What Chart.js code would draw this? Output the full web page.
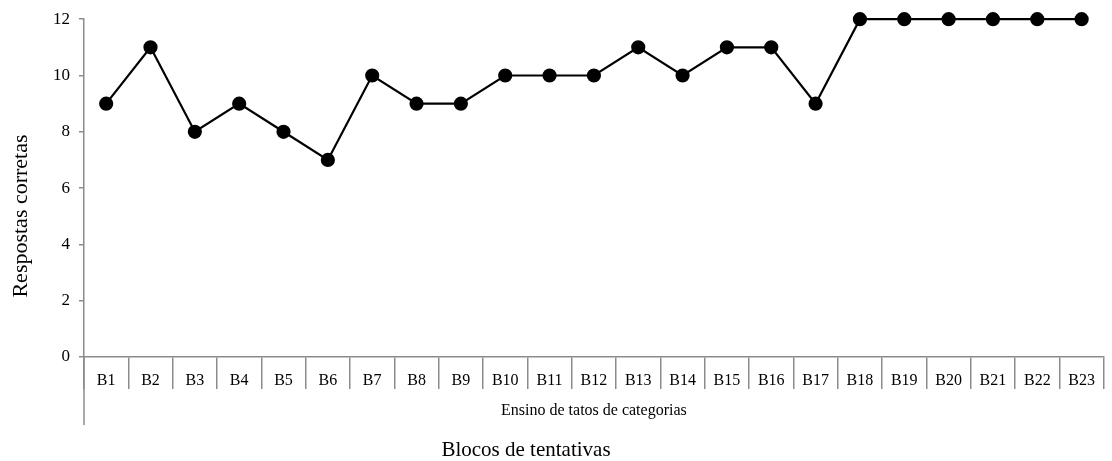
<!DOCTYPE html>
<html>
<head>
<meta charset="utf-8">
<script src="https://cdn.jsdelivr.net/npm/chart.js@4/dist/chart.umd.min.js"></script>
<style>
  body { margin: 0; background: #fff; }
  #wrap { width: 1112px; height: 461px; }
</style>
</head>
<body>
<div id="wrap"><canvas id="graph" width="1112" height="461"></canvas></div>
<script>
"use strict";
// data
var blocos = ["B1", "B2", "B3", "B4", "B5", "B6", "B7", "B8", "B9", "B10", "B11", "B12",
  "B13", "B14", "B15", "B16", "B17", "B18", "B19", "B20", "B21", "B22", "B23"];
var corretas = [9, 11, 8, 9, 8, 7, 10, 9, 9, 10, 10, 10, 11, 10, 11, 11, 9, 12, 12, 12, 12, 12, 12];
var yTicks = [0, 2, 4, 6, 8, 10, 12];

var serif = "'Liberation Serif', 'Times New Roman', serif";
var axisGray = "#8c8c8c";

// extra texts + the long left line under the axis
var extras = {
  id: "extras",
  afterDraw: function (chart) {
    var ctx = chart.ctx;
    var area = chart.chartArea;
    ctx.save();
    ctx.strokeStyle = axisGray;
    ctx.lineWidth = 1.5;
    ctx.beginPath();
    ctx.moveTo(area.left, area.bottom);
    ctx.lineTo(area.left, area.bottom + 68);
    ctx.stroke();

    ctx.fillStyle = "#000";
    ctx.textAlign = "center";
    ctx.textBaseline = "middle";
    ctx.font = "16px " + serif;
    ctx.fillText("Ensino de tatos de categorias", (area.left + area.right) / 2, 411);
    ctx.font = "21px " + serif;
    ctx.fillText("Blocos de tentativas", 526, 450);

    ctx.translate(21, 216);
    ctx.rotate(-Math.PI / 2);
    ctx.font = "22px " + serif;
    ctx.fillText("Respostas corretas", 0, 0);
    ctx.restore();
  }
};

new Chart(document.getElementById("graph"), {
  type: "line",
  data: {
    labels: blocos,
    datasets: [{
      data: corretas,
      borderColor: "#000",
      borderWidth: 2.2,
      pointBackgroundColor: "#000",
      pointBorderColor: "#000",
      pointRadius: 6,
      tension: 0,
      clip: false
    }]
  },
  options: {
    responsive: false,
    animation: false,
    layout: { padding: { left: 0, right: 6, top: 19, bottom: 0 } },
    plugins: { legend: { display: false }, tooltip: { enabled: false } },
    scales: {
      x: {
        offset: true,
        afterFit: function (s) { s.height = 104; },
        border: { color: axisGray, width: 1.5 },
        grid: { offset: true, drawOnChartArea: false, tickLength: 32, color: axisGray, lineWidth: 1.5 },
        ticks: { color: "#000", font: { family: serif, size: 16 }, padding: -18, maxRotation: 0, autoSkip: false }
      },
      y: {
        min: 0,
        max: 12,
        afterFit: function (s) { s.width = 84; },
        afterBuildTicks: function (s) { s.ticks = yTicks.map(function (v) { return { value: v }; }); },
        border: { color: axisGray, width: 1.5 },
        grid: { drawOnChartArea: false, tickLength: 5, color: axisGray, lineWidth: 1.5 },
        ticks: { color: "#000", font: { family: serif, size: 17 }, padding: 9 }
      }
    }
  },
  plugins: [extras]
});
</script>
</body>
</html>
